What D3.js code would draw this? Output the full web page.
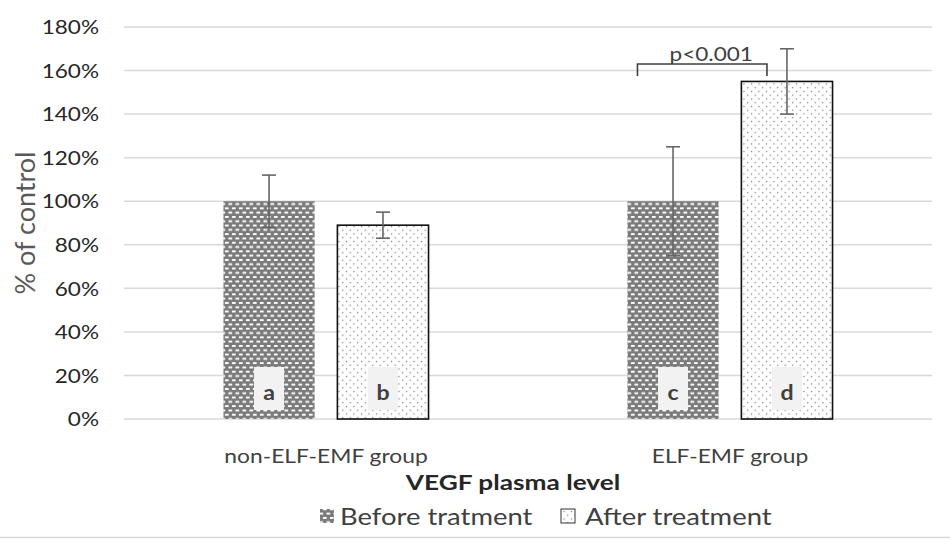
<!DOCTYPE html>
<html>
<head>
<meta charset="utf-8">
<script src="https://cdn.jsdelivr.net/npm/d3@7"></script>
<style>
  body { margin: 0; background: #fff; }
  svg { display: block; font-family: Lato, "Open Sans", sans-serif; }
</style>
</head>
<body>
<div id="chart"></div>
<script>
// Chart data
const groups = ['non-ELF-EMF group', 'ELF-EMF group'];
const series = ['Before tratment', 'After treatment'];
const values = [[100, 89], [100, 155]];    // % of control, per group then series
const errors = [[12, 6], [25, 15]];        // error bar half-length
const barLabels = [['a', 'b'], ['c', 'd']];
const yTicks = [0, 20, 40, 60, 80, 100, 120, 140, 160, 180];
const sigText = 'p<0.001';
const sigLevel = 163;                      // bracket height, group 2

const width = 950, height = 539;
const margin = { top: 27, right: 18, bottom: 120, left: 124 };
const stretch = 1.22; // text in the picture is stretched horizontally

const svg = d3.select('#chart').append('svg')
  .attr('width', width)
  .attr('height', height);

// Fill patterns
const defs = svg.append('defs');
const before = defs.append('pattern')
  .attr('id', 'pat-before')
  .attr('patternUnits', 'userSpaceOnUse')
  .attr('width', 7).attr('height', 8.6);
before.append('rect').attr('width', 7).attr('height', 8.6).attr('fill', '#7b7b7b');
[[0.8, 1.0], [4.3, 5.3], [-2.7, 5.3]].forEach(p => {
  before.append('rect')
    .attr('x', p[0]).attr('y', p[1])
    .attr('width', 4).attr('height', 1.9)
    .attr('rx', 0.8)
    .attr('fill', '#fff');
});

const after = defs.append('pattern')
  .attr('id', 'pat-after')
  .attr('patternUnits', 'userSpaceOnUse')
  .attr('width', 7.5).attr('height', 7.5);
after.append('rect').attr('width', 7.5).attr('height', 7.5).attr('fill', '#fff');
[[1.5, 1.5], [5.25, 5.25]].forEach(p => {
  after.append('circle')
    .attr('cx', p[0]).attr('cy', p[1]).attr('r', 0.75)
    .attr('fill', '#7f7f7f');
});
const fills = ['url(#pat-before)', 'url(#pat-after)'];

// Scales
const x0 = d3.scaleBand()
  .domain(groups)
  .range([margin.left, width - margin.right]);

const x1 = d3.scaleBand()
  .domain(series)
  .range([0, x0.bandwidth()])
  .paddingInner(0.2)
  .paddingOuter(0.873);

const y = d3.scaleLinear()
  .domain([0, 180])
  .range([height - margin.bottom, margin.top]);

// Stretched text helper
function addText(parent, tx, ty, str, opts) {
  const t = parent.append('text')
    .attr('transform', `translate(${tx},${ty}) scale(${opts.sx || stretch},1)`)
    .attr('text-anchor', opts.anchor || 'middle')
    .attr('dominant-baseline', 'central')
    .attr('font-size', opts.size)
    .attr('font-weight', opts.weight || 'normal')
    .attr('fill', opts.color || '#404040')
    .text(str);
  return t;
}

// Gridlines
svg.append('g')
  .selectAll('line')
  .data(yTicks)
  .join('line')
  .attr('x1', margin.left)
  .attr('x2', width - margin.right)
  .attr('y1', d => y(d))
  .attr('y2', d => y(d))
  .attr('stroke', '#d9d9d9')
  .attr('stroke-width', 1.5);

// Y axis tick labels
const yAxis = svg.append('g');
yTicks.forEach(t => {
  addText(yAxis, 99, y(t), t + '%', { size: 18.5, anchor: 'end', color: '#262626' });
});

// Y axis title
svg.append('text')
  .attr('transform', `translate(24,${(margin.top + height - margin.bottom) / 2}) rotate(-90)`)
  .attr('text-anchor', 'middle')
  .attr('dominant-baseline', 'central')
  .attr('font-size', 27)
  .attr('fill', '#595959')
  .text('% of control');

// Bars
const flat = [];
groups.forEach((g, gi) => {
  series.forEach((s, si) => {
    flat.push({ g, gi, s, si, v: values[gi][si], e: errors[gi][si], lab: barLabels[gi][si] });
  });
});
const barX = d => x0(d.g) + x1(d.s);

svg.append('g')
  .selectAll('rect')
  .data(flat)
  .join('rect')
  .attr('x', barX)
  .attr('y', d => y(d.v))
  .attr('width', x1.bandwidth())
  .attr('height', d => y(0) - y(d.v))
  .attr('fill', d => fills[d.si])
  .attr('stroke', d => d.si === 1 ? '#111' : 'none')
  .attr('stroke-width', 1.6);

// Letter boxes inside bars
const labs = svg.append('g');
flat.forEach(d => {
  const cx = barX(d) + x1.bandwidth() / 2;
  labs.append('rect')
    .attr('x', cx - 15).attr('y', y(0) - 52)
    .attr('width', 30).attr('height', 43)
    .attr('fill', '#f2f2f2');
  addText(labs, cx, y(0) - 27, d.lab, { size: 21, weight: 'bold', color: '#404040', sx: 1.1 });
});

// Error bars
const err = svg.append('g')
  .attr('stroke', '#666')
  .attr('stroke-width', 1.6);
flat.forEach(d => {
  const cx = barX(d) + x1.bandwidth() / 2;
  err.append('line')
    .attr('x1', cx).attr('x2', cx)
    .attr('y1', y(d.v + d.e)).attr('y2', y(d.v - d.e));
  [d.v + d.e, d.v - d.e].forEach(v => {
    err.append('line')
      .attr('x1', cx - 7).attr('x2', cx + 7)
      .attr('y1', y(v)).attr('y2', y(v));
  });
});

// Significance bracket (second group)
const gC = groups[1];
const bx1 = x0(gC) + x1(series[0]) + 10;
const bx2 = x0(gC) + x1(series[1]) + x1.bandwidth() / 2 - 20;
svg.append('path')
  .attr('d', `M${bx1},${y(sigLevel) + 12}V${y(sigLevel)}H${bx2}V${y(sigLevel) + 12}`)
  .attr('fill', 'none')
  .attr('stroke', '#404040')
  .attr('stroke-width', 1.6);
addText(svg, (bx1 + bx2) / 2 + 9, y(sigLevel) - 10, sigText, { size: 18.5, color: '#404040' });

// Category labels
groups.forEach(g => {
  addText(svg, x0(g) + x0.bandwidth() / 2, 455, g, { size: 18.7, color: '#404040' });
});

// X axis title
addText(svg, 513, 481, 'VEGF plasma level', { size: 21.5, weight: 'bold', color: '#262626' });

// Legend
const legend = svg.append('g');
const legendX = [320, 561];
const legendTextX = [340, 585];
series.forEach((s, i) => {
  legend.append('rect')
    .attr('x', legendX[i]).attr('y', 509)
    .attr('width', 14).attr('height', 14)
    .attr('fill', fills[i])
    .attr('stroke', i === 1 ? '#333' : 'none')
    .attr('stroke-width', 1);
  addText(legend, legendTextX[i], 516, s, { size: 22.5, anchor: 'start', color: '#404040' });
});

// Bottom border of the chart frame
svg.append('line')
  .attr('x1', 0).attr('x2', width)
  .attr('y1', 537.5).attr('y2', 537.5)
  .attr('stroke', '#d9d9d9')
  .attr('stroke-width', 1.5);
</script>
</body>
</html>
